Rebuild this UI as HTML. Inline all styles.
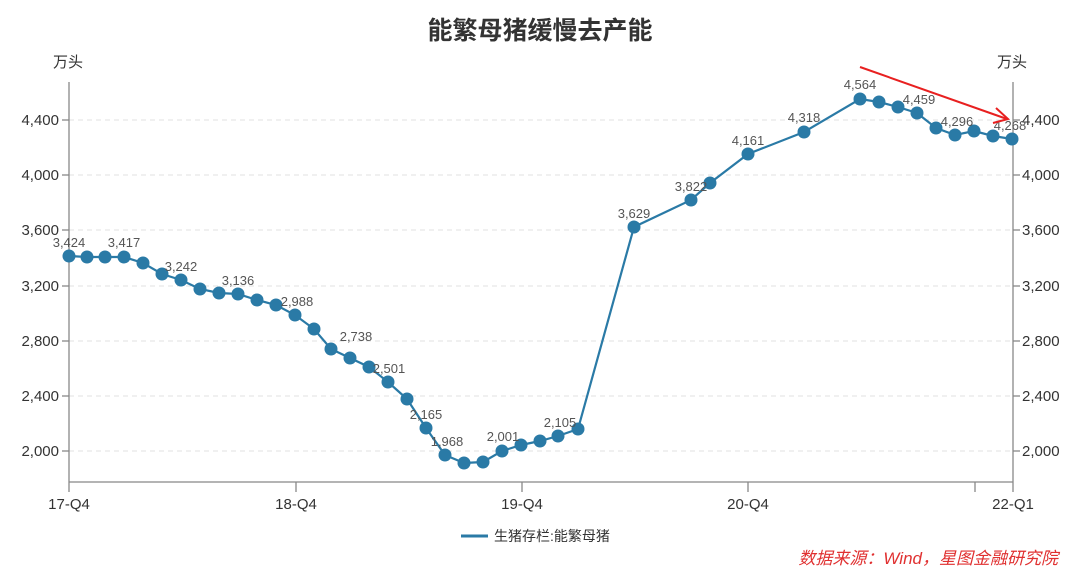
<!DOCTYPE html>
<html><head><meta charset="utf-8"><style>
body{margin:0;background:#fff;}
svg{display:block;font-family:"Liberation Sans","Noto Sans CJK SC",sans-serif;}
</style></head><body>
<svg width="1080" height="579" viewBox="0 0 1080 579" xmlns="http://www.w3.org/2000/svg">
<text x="540" y="39" text-anchor="middle" font-size="25" font-weight="bold" fill="#333">能繁母猪缓慢去产能</text>
<text x="68" y="67" text-anchor="middle" font-size="15" fill="#333">万头</text>
<text x="1012" y="67" text-anchor="middle" font-size="15" fill="#333">万头</text>
<g stroke="#e0e0e0" stroke-dasharray="5,4" stroke-width="1">
<line x1="69" x2="1013" y1="120" y2="120"/><line x1="69" x2="1013" y1="175" y2="175"/>
<line x1="69" x2="1013" y1="230" y2="230"/><line x1="69" x2="1013" y1="286" y2="286"/>
<line x1="69" x2="1013" y1="341" y2="341"/><line x1="69" x2="1013" y1="396" y2="396"/>
<line x1="69" x2="1013" y1="451" y2="451"/>
</g>
<g stroke="#888" stroke-width="1.3">
<line x1="69" y1="82" x2="69" y2="482"/><line x1="1013" y1="82" x2="1013" y2="482"/>
<line x1="69" y1="482" x2="1013" y2="482"/>
<line x1="69" y1="482" x2="69" y2="492"/><line x1="296" y1="482" x2="296" y2="492"/>
<line x1="522" y1="482" x2="522" y2="492"/><line x1="748" y1="482" x2="748" y2="492"/>
<line x1="975" y1="482" x2="975" y2="492"/><line x1="1013" y1="482" x2="1013" y2="492"/>
<line x1="62" x2="69" y1="120" y2="120"/><line x1="62" x2="69" y1="175" y2="175"/><line x1="62" x2="69" y1="230" y2="230"/><line x1="62" x2="69" y1="286" y2="286"/><line x1="62" x2="69" y1="341" y2="341"/><line x1="62" x2="69" y1="396" y2="396"/><line x1="62" x2="69" y1="451" y2="451"/>
<line x1="1013" x2="1020" y1="120" y2="120"/><line x1="1013" x2="1020" y1="175" y2="175"/><line x1="1013" x2="1020" y1="230" y2="230"/><line x1="1013" x2="1020" y1="286" y2="286"/><line x1="1013" x2="1020" y1="341" y2="341"/><line x1="1013" x2="1020" y1="396" y2="396"/><line x1="1013" x2="1020" y1="451" y2="451"/>
</g>
<g font-size="15" fill="#333" text-anchor="end">
<text x="59" y="125">4,400</text><text x="59" y="180">4,000</text><text x="59" y="235">3,600</text><text x="59" y="291">3,200</text><text x="59" y="346">2,800</text><text x="59" y="401">2,400</text><text x="59" y="456">2,000</text>
</g>
<g font-size="15" fill="#333" text-anchor="start">
<text x="1022" y="125">4,400</text><text x="1022" y="180">4,000</text><text x="1022" y="235">3,600</text><text x="1022" y="291">3,200</text><text x="1022" y="346">2,800</text><text x="1022" y="401">2,400</text><text x="1022" y="456">2,000</text>
</g>
<g font-size="15" fill="#333" text-anchor="middle">
<text x="69" y="509">17-Q4</text><text x="296" y="509">18-Q4</text><text x="522" y="509">19-Q4</text><text x="748" y="509">20-Q4</text><text x="1013" y="509">22-Q1</text>
</g>
<polyline fill="none" stroke="#2a7aa6" stroke-width="2.2" points="69,256 87,257 105,257 124,257 143,263 162,274 181,280 200,289 219,293 238,294 257,300 276,305 295,315 314,329 331,349 350,358 369,367 388,382 407,399 426,428 445,455 464,463 483,462 502,451 521,445 540,441 558,436 578,429 634,227 691,200 710,183 748,154 804,132 860,99 879,102 898,107 917,113 936,128 955,135 974,131 993,136 1012,139"/>
<g fill="#2a7aa6">
<circle cx="69" cy="256" r="6.5"/><circle cx="87" cy="257" r="6.5"/><circle cx="105" cy="257" r="6.5"/><circle cx="124" cy="257" r="6.5"/><circle cx="143" cy="263" r="6.5"/><circle cx="162" cy="274" r="6.5"/><circle cx="181" cy="280" r="6.5"/><circle cx="200" cy="289" r="6.5"/><circle cx="219" cy="293" r="6.5"/><circle cx="238" cy="294" r="6.5"/><circle cx="257" cy="300" r="6.5"/><circle cx="276" cy="305" r="6.5"/><circle cx="295" cy="315" r="6.5"/><circle cx="314" cy="329" r="6.5"/><circle cx="331" cy="349" r="6.5"/><circle cx="350" cy="358" r="6.5"/><circle cx="369" cy="367" r="6.5"/><circle cx="388" cy="382" r="6.5"/><circle cx="407" cy="399" r="6.5"/><circle cx="426" cy="428" r="6.5"/><circle cx="445" cy="455" r="6.5"/><circle cx="464" cy="463" r="6.5"/><circle cx="483" cy="462" r="6.5"/><circle cx="502" cy="451" r="6.5"/><circle cx="521" cy="445" r="6.5"/><circle cx="540" cy="441" r="6.5"/><circle cx="558" cy="436" r="6.5"/><circle cx="578" cy="429" r="6.5"/><circle cx="634" cy="227" r="6.5"/><circle cx="691" cy="200" r="6.5"/><circle cx="710" cy="183" r="6.5"/><circle cx="748" cy="154" r="6.5"/><circle cx="804" cy="132" r="6.5"/><circle cx="860" cy="99" r="6.5"/><circle cx="879" cy="102" r="6.5"/><circle cx="898" cy="107" r="6.5"/><circle cx="917" cy="113" r="6.5"/><circle cx="936" cy="128" r="6.5"/><circle cx="955" cy="135" r="6.5"/><circle cx="974" cy="131" r="6.5"/><circle cx="993" cy="136" r="6.5"/><circle cx="1012" cy="139" r="6.5"/>
</g>
<g font-size="13" fill="#555" text-anchor="middle">
<text x="69" y="247">3,424</text><text x="124" y="247">3,417</text><text x="181" y="271">3,242</text><text x="238" y="285">3,136</text><text x="297" y="306">2,988</text><text x="356" y="341">2,738</text><text x="389" y="373">2,501</text><text x="426" y="419">2,165</text><text x="447" y="446">1,968</text><text x="503" y="441">2,001</text><text x="560" y="427">2,105</text><text x="634" y="218">3,629</text><text x="691" y="191">3,822</text><text x="748" y="145">4,161</text><text x="804" y="122">4,318</text><text x="860" y="89">4,564</text><text x="919" y="104">4,459</text><text x="957" y="126">4,296</text><text x="1010" y="130">4,268</text>
</g>
<line x1="860" y1="67" x2="1007" y2="119" stroke="#e82020" stroke-width="2"/>
<polyline points="996,108 1008,119 993,123" fill="none" stroke="#e82020" stroke-width="2"/>
<line x1="461" y1="536" x2="488" y2="536" stroke="#2a7aa6" stroke-width="3"/>
<text x="494" y="541" font-size="14" fill="#333">生猪存栏:能繁母猪</text>
<text x="1058" y="564" text-anchor="end" font-size="17" font-style="italic" fill="#e03030">数据来源：Wind，星图金融研究院</text>
</svg>
</body></html>
